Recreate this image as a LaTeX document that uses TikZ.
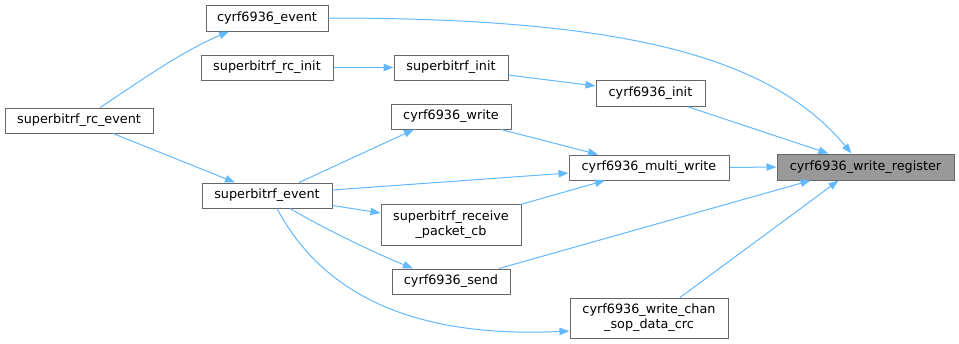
\documentclass[tikz,border=0pt]{standalone}
\usepackage{fontspec}
\setmainfont{DejaVu Sans}
\usetikzlibrary{arrows.meta, calc}

\definecolor{edgeblue}{HTML}{63B8FF}
\definecolor{rootfill}{HTML}{999999}
\definecolor{boxline}{HTML}{666666}

\begin{document}
\begin{tikzpicture}[x=0.75pt, y=-0.75pt]

\tikzset{func/.style = {shape=rectangle, draw=boxline, line width=0.75pt, inner sep=0pt, align=center, font=\fontsize{9.6pt}{11.25pt}\selectfont}}
\tikzset{wh/.style 2 args = {minimum width=#1*0.75pt, minimum height=#2*0.75pt}}
\tikzset{edge/.style = {edgeblue, line width=0.75pt, -{Triangle[length=7.5pt, width=5.5pt]}}}

\useasboundingbox (0,0) rectangle (959,343);

%functions
\node[func, wh={122}{26}] (ev) at (267,18) {cyrf6936\_event};
\node[func, wh={132}{25}] (rcinit) at (267,67.5) {superbitrf\_rc\_init};
\node[func, wh={148}{25}] (rcev) at (79,120.5) {superbitrf\_rc\_event};
\node[func, wh={130}{25}] (sbev) at (267,195.5) {superbitrf\_event};
\node[func, wh={114}{25}] (sbinit) at (451,67.5) {superbitrf\_init};
\node[func, wh={120}{25}] (wr) at (451,116.5) {cyrf6936\_write};
\node[func, wh={140}{41}] (rxcb) at (451,224.5) {superbitrf\_receive\\\_packet\_cb};
\node[func, wh={118}{25}] (send) at (451,281.5) {cyrf6936\_send};
\node[func, wh={109}{26}] (init) at (650.5,93.5) {cyrf6936\_init};
\node[func, wh={160}{25}] (mw) at (649,167.5) {cyrf6936\_multi\_write};
\node[func, wh={158}{40}] (chan) at (649,318) {cyrf6936\_write\_chan\\\_sop\_data\_crc};
\node[func, wh={177}{26}, fill=rootfill] (reg) at (865.5,167) {cyrf6936\_write\_register};

%calls
\draw [edge] (ev.east) .. controls (620,18) and (770,55) .. ($(reg.north)+(-14,0)$);
\draw [edge] ($(init.south)+(38,0)$) -- ($(reg.north)+(-37,0)$);
\draw [edge] (mw.east) -- (reg.west);
\draw [edge] ($(send.north)+(48,0)$) -- ($(reg.south)+(-55,0)$);
\draw [edge] ($(chan.north)+(31,0)$) -- ($(reg.south)+(-27,0)$);
\draw [edge] ($(sbinit.east)+(0,7.5)$) -- ($(init.west)+(0,-7.5)$);
\draw [edge] (rcinit.east) -- (sbinit.west);
\draw [edge] ($(rcev.north)+(21,0)$) .. controls (130,88) and (180,52) .. ($(ev.south)+(-38,0)$);
\draw [edge] ($(rcev.south)+(34,0)$) -- ($(sbev.north)+(-32,0)$);
\draw [edge] ($(sbev.north)+(32,0)$) -- ($(wr.south)+(-37,0)$);
\draw [edge] ($(sbev.east)+(0,-5.5)$) -- ($(mw.west)+(0,5.5)$);
\draw [edge] ($(sbev.east)+(0,10)$) -- ($(rxcb.west)+(0,-11.5)$);
\draw [edge] ($(sbev.south)+(23,0)$) .. controls (330,232) and (380,255) .. ($(send.north)+(-38,0)$);
\draw [edge] ($(sbev.south)+(10,0)$) .. controls (310,270) and (380,340) .. ($(chan.west)+(0,13)$);
\draw [edge] ($(wr.south)+(50,0)$) -- ($(mw.north)+(-51,0)$);
\draw [edge] ($(rxcb.north east)+(-1,1)$) -- ($(mw.south)+(-44,0)$);

\end{tikzpicture}
\end{document}
